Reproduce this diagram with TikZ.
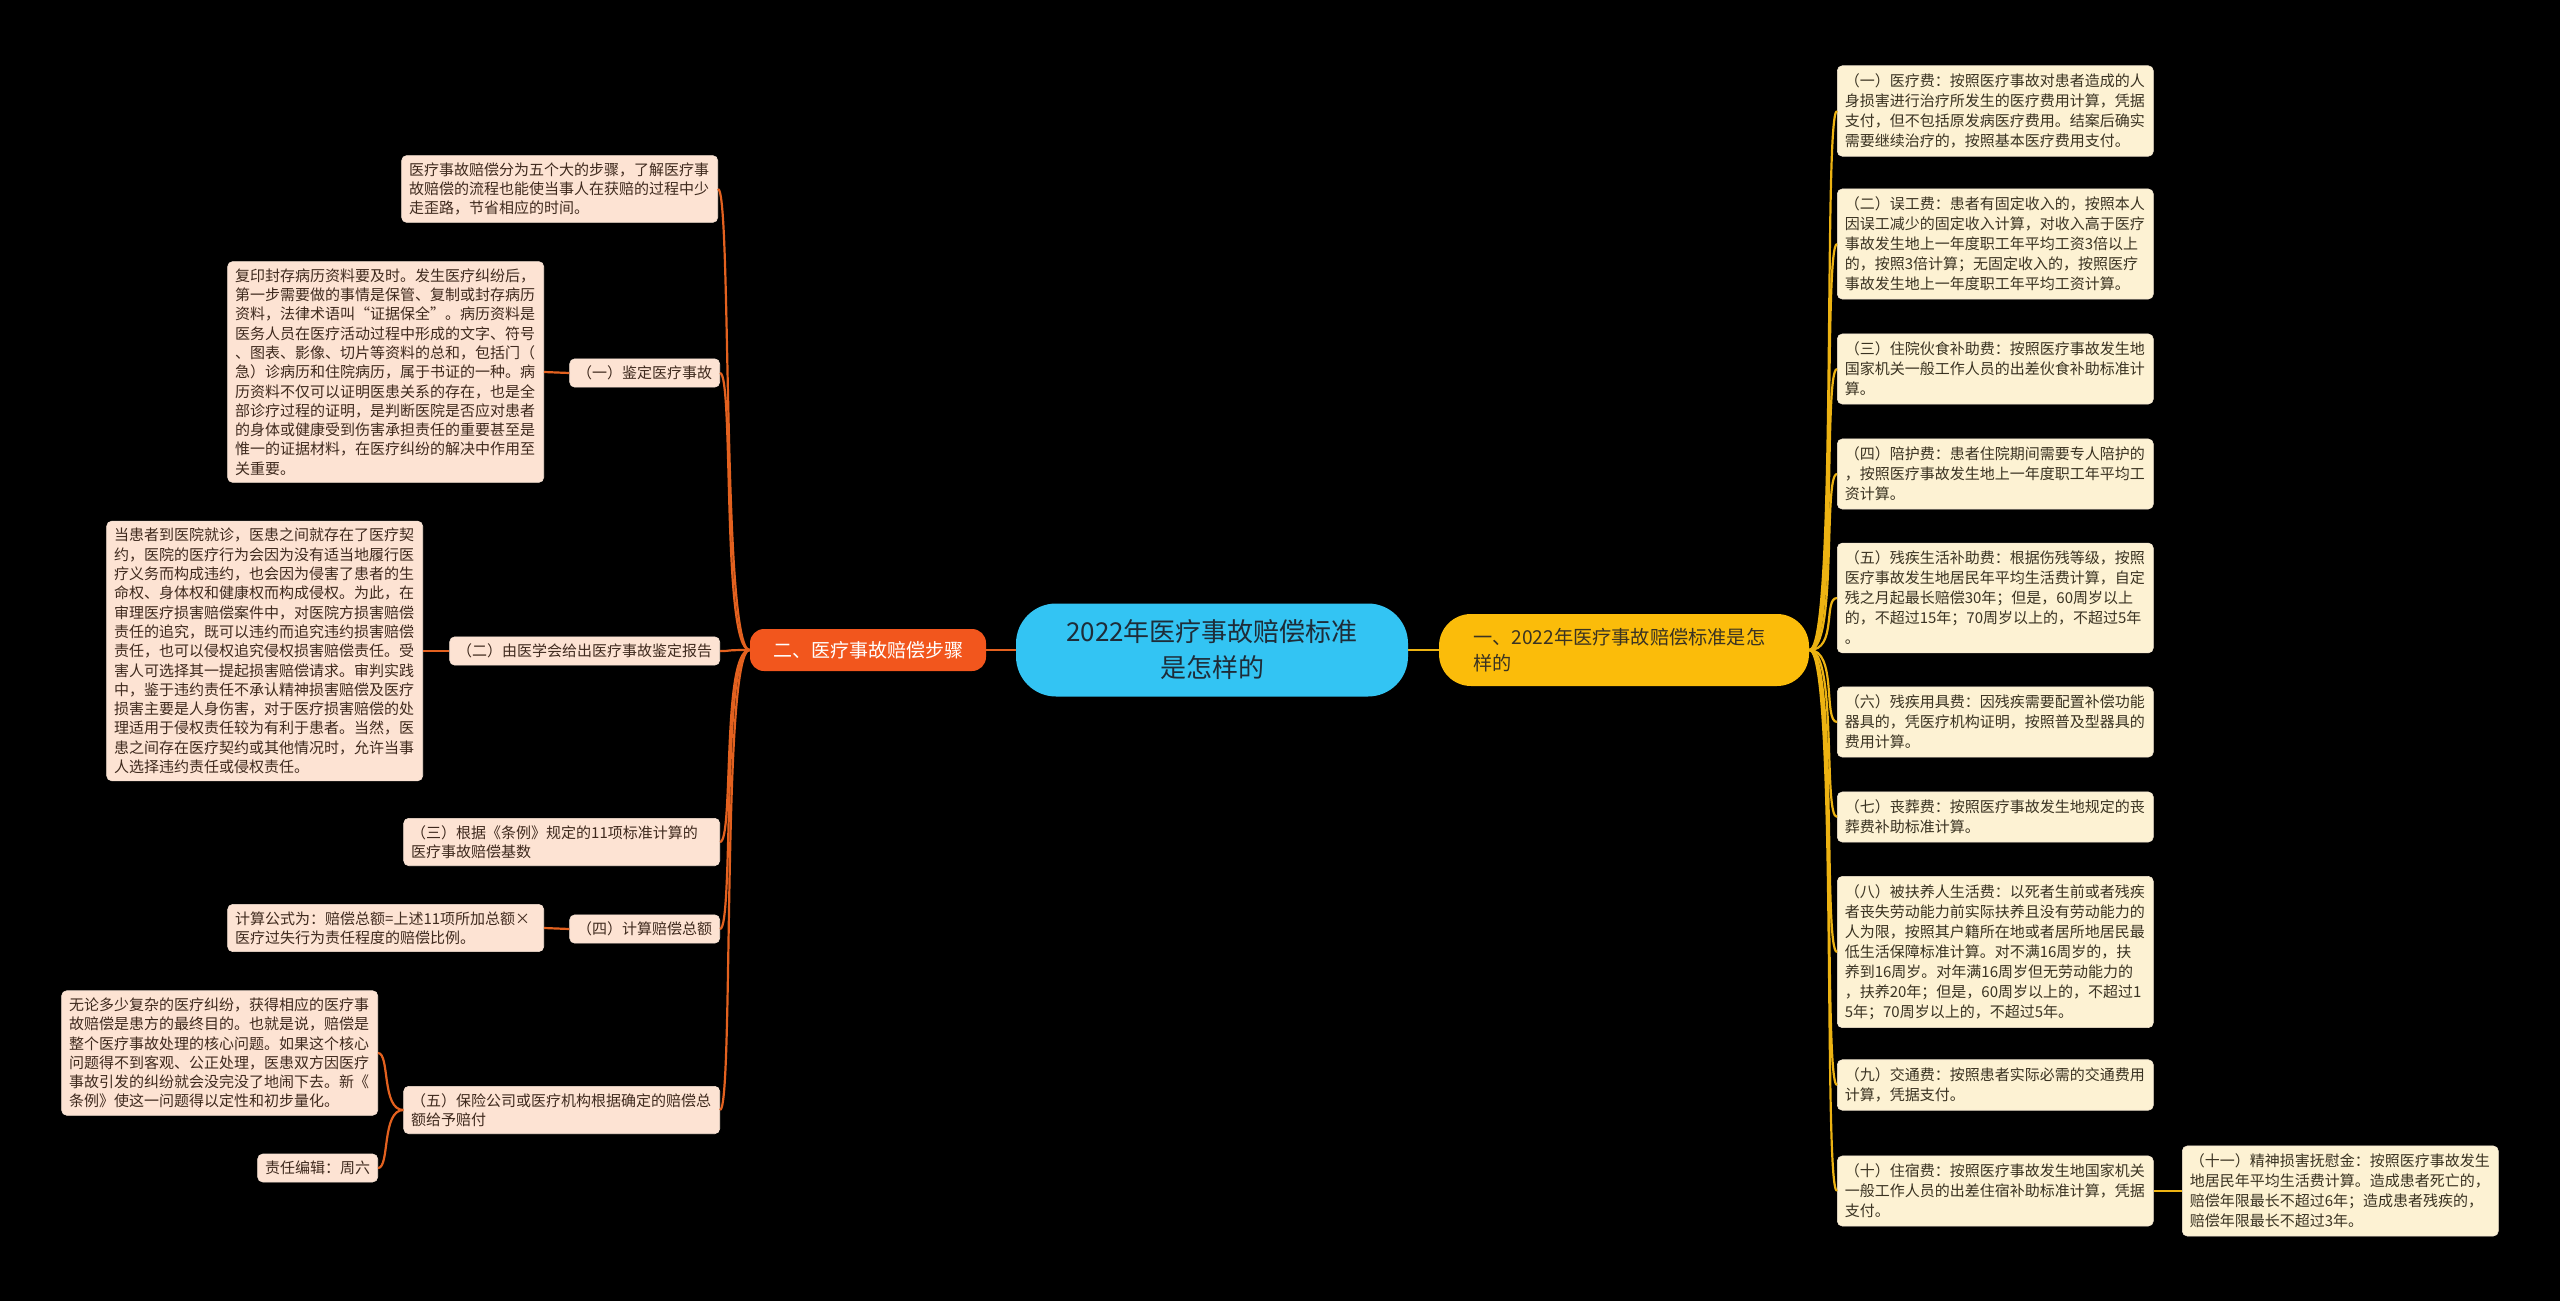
\documentclass[tikz,border=0pt]{standalone}
\usepackage{fontspec}
\setmainfont{Noto Sans CJK SC}
\usepackage{tikz}
\definecolor{rootblue}{HTML}{33C4F3}
\definecolor{leftred}{HTML}{F2561D}
\definecolor{rightgold}{HTML}{FBBC0A}
\definecolor{peach}{HTML}{FDE3D3}
\definecolor{cream}{HTML}{FDF2D3}
\definecolor{linered}{HTML}{E3611F}
\definecolor{linegold}{HTML}{EDB312}
\definecolor{txtbrown}{HTML}{3F2A1E}
\definecolor{txtolive}{HTML}{3A3322}
\definecolor{txtroot}{HTML}{1E2C38}

\begin{document}
\begin{tikzpicture}[x=0.5pt,y=-0.5pt,
	root/.style={fill=rootblue,rounded corners=20pt,minimum width=196pt,minimum height=46.5pt,align=center,text=txtroot,font=\fontsize{13}{18}\selectfont},
	lmain/.style={fill=leftred,rounded corners=7pt,minimum width=118pt,minimum height=21pt,text=white,font=\fontsize{9.5}{12}\selectfont},
	rmain/.style={fill=rightgold,rounded corners=16pt,text width=151pt,inner xsep=17pt,minimum height=36pt,align=left,text=txtolive,font=\fontsize{9.6}{13}\selectfont},
	lbox/.style={fill=peach,draw=peach!80!brown!60,line width=0.3pt,rounded corners=2.5pt,align=left,inner xsep=3.75pt,inner ysep=3.5pt,text=txtbrown,font=\fontsize{7.5}{9.65}\selectfont},
	rbox/.style={fill=cream,draw=cream!80!brown!60,line width=0.3pt,rounded corners=2.5pt,align=left,inner xsep=3.75pt,inner ysep=4pt,text=txtolive,font=\fontsize{7.5}{10}\selectfont},
	wbox/.style={text width=150.5pt},
	redline/.style={draw=linered,line width=1.1pt},
	goldline/.style={draw=linegold,line width=1.1pt}]
	\fill[black] (0,0) rectangle (2560,1301);

	\node[root] (root) at (1212,650) {2022年医疗事故赔偿标准\\是怎样的};
	\node[lmain] (lm) at (868,650) {二、医疗事故赔偿步骤};
	\node[rmain] (rm) at (1624,650) {一、2022年医疗事故赔偿标准是怎\\样的};

	\node[lbox,wbox,anchor=east] (t0) at (718,189) {医疗事故赔偿分为五个大的步骤，了解医疗事\\故赔偿的流程也能使当事人在获赔的过程中少\\走歪路，节省相应的时间。};
	\node[lbox,anchor=east] (s1) at (720,373) {（一）鉴定医疗事故};
	\node[lbox,anchor=east] (s2) at (720,651) {（二）由医学会给出医疗事故鉴定报告};
	\node[lbox,wbox,anchor=east] (s3) at (720,842) {（三）根据《条例》规定的11项标准计算的\\医疗事故赔偿基数};
	\node[lbox,anchor=east] (s4) at (720,929) {（四）计算赔偿总额};
	\node[lbox,wbox,anchor=east] (s5) at (720,1110) {（五）保险公司或医疗机构根据确定的赔偿总\\额给予赔付};

	\node[lbox,wbox,anchor=east] (l1) at (544,372) {复印封存病历资料要及时。发生医疗纠纷后，\\第一步需要做的事情是保管、复制或封存病历\\资料，法律术语叫“证据保全”。病历资料是\\医务人员在医疗活动过程中形成的文字、符号\\、图表、影像、切片等资料的总和，包括门（\\急）诊病历和住院病历，属于书证的一种。病\\历资料不仅可以证明医患关系的存在，也是全\\部诊疗过程的证明，是判断医院是否应对患者\\的身体或健康受到伤害承担责任的重要甚至是\\惟一的证据材料，在医疗纠纷的解决中作用至\\关重要。};
	\node[lbox,wbox,anchor=east] (l2) at (423,651) {当患者到医院就诊，医患之间就存在了医疗契\\约，医院的医疗行为会因为没有适当地履行医\\疗义务而构成违约，也会因为侵害了患者的生\\命权、身体权和健康权而构成侵权。为此，在\\审理医疗损害赔偿案件中，对医院方损害赔偿\\责任的追究，既可以违约而追究违约损害赔偿\\责任，也可以侵权追究侵权损害赔偿责任。受\\害人可选择其一提起损害赔偿请求。审判实践\\中，鉴于违约责任不承认精神损害赔偿及医疗\\损害主要是人身伤害，对于医疗损害赔偿的处\\理适用于侵权责任较为有利于患者。当然，医\\患之间存在医疗契约或其他情况时，允许当事\\人选择违约责任或侵权责任。};
	\node[lbox,wbox,anchor=east] (l4) at (544,928) {计算公式为：赔偿总额=上述11项所加总额×\\医疗过失行为责任程度的赔偿比例。};
	\node[lbox,wbox,anchor=east] (l5a) at (378,1053) {无论多少复杂的医疗纠纷，获得相应的医疗事\\故赔偿是患方的最终目的。也就是说，赔偿是\\整个医疗事故处理的核心问题。如果这个核心\\问题得不到客观、公正处理，医患双方因医疗\\事故引发的纠纷就会没完没了地闹下去。新《\\条例》使这一问题得以定性和初步量化。};
	\node[lbox,anchor=east] (l5b) at (378,1168) {责任编辑：周六};

	\node[rbox,wbox,anchor=west] (r1) at (1837,111) {（一）医疗费：按照医疗事故对患者造成的人\\身损害进行治疗所发生的医疗费用计算，凭据\\支付，但不包括原发病医疗费用。结案后确实\\需要继续治疗的，按照基本医疗费用支付。};
	\node[rbox,wbox,anchor=west] (r2) at (1837,244) {（二）误工费：患者有固定收入的，按照本人\\因误工减少的固定收入计算，对收入高于医疗\\事故发生地上一年度职工年平均工资3倍以上\\的，按照3倍计算；无固定收入的，按照医疗\\事故发生地上一年度职工年平均工资计算。};
	\node[rbox,wbox,anchor=west] (r3) at (1837,369) {（三）住院伙食补助费：按照医疗事故发生地\\国家机关一般工作人员的出差伙食补助标准计\\算。};
	\node[rbox,wbox,anchor=west] (r4) at (1837,474) {（四）陪护费：患者住院期间需要专人陪护的\\，按照医疗事故发生地上一年度职工年平均工\\资计算。};
	\node[rbox,wbox,anchor=west] (r5) at (1837,598) {（五）残疾生活补助费：根据伤残等级，按照\\医疗事故发生地居民年平均生活费计算，自定\\残之月起最长赔偿30年；但是，60周岁以上\\的，不超过15年；70周岁以上的，不超过5年\\。};
	\node[rbox,wbox,anchor=west] (r6) at (1837,722) {（六）残疾用具费：因残疾需要配置补偿功能\\器具的，凭医疗机构证明，按照普及型器具的\\费用计算。};
	\node[rbox,wbox,anchor=west] (r7) at (1837,817) {（七）丧葬费：按照医疗事故发生地规定的丧\\葬费补助标准计算。};
	\node[rbox,wbox,anchor=west] (r8) at (1837,952) {（八）被扶养人生活费：以死者生前或者残疾\\者丧失劳动能力前实际扶养且没有劳动能力的\\人为限，按照其户籍所在地或者居所地居民最\\低生活保障标准计算。对不满16周岁的，扶\\养到16周岁。对年满16周岁但无劳动能力的\\，扶养20年；但是，60周岁以上的，不超过1\\5年；70周岁以上的，不超过5年。};
	\node[rbox,wbox,anchor=west] (r9) at (1837,1085) {（九）交通费：按照患者实际必需的交通费用\\计算，凭据支付。};
	\node[rbox,wbox,anchor=west] (r10) at (1837,1191) {（十）住宿费：按照医疗事故发生地国家机关\\一般工作人员的出差住宿补助标准计算，凭据\\支付。};
	\node[rbox,wbox,anchor=west] (r11) at (2182,1191) {（十一）精神损害抚慰金：按照医疗事故发生\\地居民年平均生活费计算。造成患者死亡的，\\赔偿年限最长不超过6年；造成患者残疾的，\\赔偿年限最长不超过3年。};

	\draw[redline] (root.west) -- (lm.east);
	\draw[goldline] (root.east) -- (rm.west);

	\draw[redline] (lm.west) .. controls +(-28,0) and +(14,0) .. (t0.east);
	\draw[redline] (lm.west) .. controls +(-28,0) and +(14,0) .. (s1.east);
	\draw[redline] (lm.west) .. controls +(-28,0) and +(14,0) .. (s2.east);
	\draw[redline] (lm.west) .. controls +(-28,0) and +(14,0) .. (s3.east);
	\draw[redline] (lm.west) .. controls +(-28,0) and +(14,0) .. (s4.east);
	\draw[redline] (lm.west) .. controls +(-28,0) and +(14,0) .. (s5.east);
	\draw[redline] (s1.west) -- (l1.east);
	\draw[redline] (s2.west) -- (l2.east);
	\draw[redline] (s4.west) -- (l4.east);
	\draw[redline] (s5.west) .. controls +(-22,0) and +(12,0) .. (l5a.east);
	\draw[redline] (s5.west) .. controls +(-22,0) and +(12,0) .. (l5b.east);

	\draw[goldline] (rm.east) .. controls +(28,0) and +(-14,0) .. (r1.west);
	\draw[goldline] (rm.east) .. controls +(28,0) and +(-14,0) .. (r2.west);
	\draw[goldline] (rm.east) .. controls +(28,0) and +(-14,0) .. (r3.west);
	\draw[goldline] (rm.east) .. controls +(28,0) and +(-14,0) .. (r4.west);
	\draw[goldline] (rm.east) .. controls +(28,0) and +(-14,0) .. (r5.west);
	\draw[goldline] (rm.east) .. controls +(28,0) and +(-14,0) .. (r6.west);
	\draw[goldline] (rm.east) .. controls +(28,0) and +(-14,0) .. (r7.west);
	\draw[goldline] (rm.east) .. controls +(28,0) and +(-14,0) .. (r8.west);
	\draw[goldline] (rm.east) .. controls +(28,0) and +(-14,0) .. (r9.west);
	\draw[goldline] (rm.east) .. controls +(28,0) and +(-14,0) .. (r10.west);
	\draw[goldline] (r10.east) -- (r11.west);
\end{tikzpicture}
\end{document}
